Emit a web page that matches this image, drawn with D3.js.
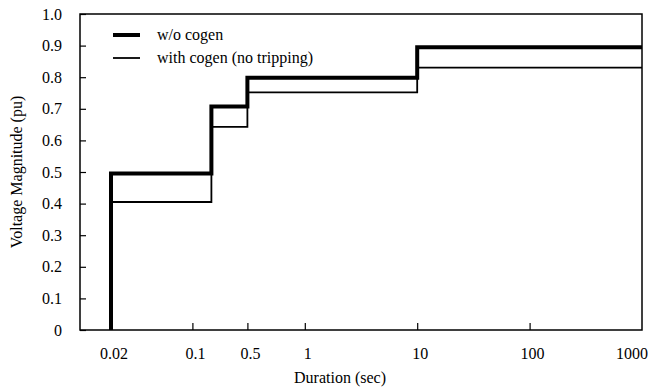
<!DOCTYPE html>
<html>
<head>
<meta charset="utf-8">
<script src="https://cdn.jsdelivr.net/npm/d3@7"></script>
<style>
  body { margin: 0; background: #fff; }
</style>
</head>
<body>
<div id="chart"></div>
<script>
// step points: duration (sec) where the level starts, and the level (pu)
const breakTimes = [0.02, 0.2, 0.5, 10, 1000];
const woCogen = [0.495, 0.707, 0.798, 0.895];
const withCogen = [0.405, 0.643, 0.752, 0.83];

const xTickValues = [0.02, 0.1, 0.5, 1, 10, 100, 1000];
const xTickMarks = [0.1, 0.5, 1, 10, 100];
const yTickValues = [0, 0.1, 0.2, 0.3, 0.4, 0.5, 0.6, 0.7, 0.8, 0.9, 1.0];
const seriesNames = ["w/o cogen", "with cogen (no tripping)"];

(function (d3) {
	"use strict";
	const width = 648, height = 392;
	const margin = { top: 14, right: 6, bottom: 62, left: 80 };
	const plotW = width - margin.left - margin.right,
		plotH = height - margin.top - margin.bottom;
	const FONT = "Liberation Serif, DejaVu Serif, serif";
	const FSIZE = 16;

	const svg = d3.select("#chart").append("svg")
		.attr("width", width)
		.attr("height", height)
		.style("font-family", FONT);
	const g = svg.append("g")
		.attr("transform", "translate(" + margin.left + "," + margin.top + ")");

	// the original axis is hand-spaced below 1 s, log above it
	const decade = plotW / 5;
	const xScale = d3.scaleLog()
		.domain([0.01, 0.02, 0.1, 0.2, 0.5, 1, 1000])
		.range([0, 31, decade, decade + 19, decade + 55, 2 * decade, plotW]);
	const yScale = d3.scaleLinear().domain([0, 1]).range([plotH, 0]);

	// frame
	g.append("rect")
		.attr("width", plotW).attr("height", plotH)
		.attr("fill", "none").attr("stroke", "#000").attr("stroke-width", 1.5);

	// y axis
	const yAxis = d3.axisLeft(yScale)
		.tickValues(yTickValues)
		.tickSize(-6)
		.tickPadding(18)
		.tickFormat(d => d === 0 ? "0" : d3.format(".1f")(d));
	const yg = g.append("g").call(yAxis)
		.attr("font-family", FONT).attr("font-size", FSIZE);
	yg.select(".domain").remove();
	yg.selectAll("line").attr("stroke-width", 1.2);

	// x axis
	const xAxis = d3.axisBottom(xScale)
		.tickValues(xTickMarks)
		.tickSize(-7)
		.tickFormat("");
	const xg = g.append("g").attr("transform", "translate(0," + plotH + ")").call(xAxis);
	xg.select(".domain").remove();
	xg.selectAll("line").attr("stroke-width", 1.2);

	g.append("g").selectAll("text")
		.data(xTickValues)
		.join("text")
		.attr("x", d => xScale(d) + (d === 1000 ? -10 : 3))
		.attr("y", plotH + 29)
		.attr("text-anchor", "middle")
		.attr("font-family", FONT)
		.attr("font-size", FSIZE)
		.text(d => String(d));

	// axis titles
	svg.append("text")
		.attr("x", 340)
		.attr("y", 383)
		.attr("text-anchor", "middle")
		.attr("font-family", FONT)
		.attr("font-size", FSIZE)
		.text("Duration (sec)");
	svg.append("text")
		.attr("transform", "translate(22," + (margin.top + plotH / 2) + ") rotate(-90)")
		.attr("text-anchor", "middle")
		.attr("font-family", FONT)
		.attr("font-size", FSIZE)
		.text("Voltage Magnitude (pu)");

	// step lines
	function stepPoints(levels) {
		const pts = [[breakTimes[0], 0]];
		levels.forEach((v, i) => {
			pts.push([breakTimes[i], v]);
			pts.push([breakTimes[i + 1], v]);
		});
		return pts;
	}
	const line = d3.line()
		.x(d => xScale(d[0]))
		.y(d => yScale(d[1]));

	g.append("path")
		.datum(stepPoints(withCogen))
		.attr("d", line)
		.attr("fill", "none")
		.attr("stroke", "#000")
		.attr("stroke-width", 1.8);
	g.append("path")
		.datum(stepPoints(woCogen))
		.attr("d", line)
		.attr("fill", "none")
		.attr("stroke", "#000")
		.attr("stroke-width", 4);

	// legend
	const legend = svg.append("g").attr("transform", "translate(113,35)");
	seriesNames.forEach((name, i) => {
		const row = legend.append("g").attr("transform", "translate(0," + i * 23 + ")");
		row.append("line")
			.attr("x1", 0).attr("x2", 27)
			.attr("stroke", "#000")
			.attr("stroke-width", i === 0 ? 4 : 1.8);
		row.append("text")
			.attr("x", 44).attr("y", 5)
			.attr("font-family", FONT)
			.attr("font-size", FSIZE)
			.text(name);
	});
})(d3);
</script>
</body>
</html>
